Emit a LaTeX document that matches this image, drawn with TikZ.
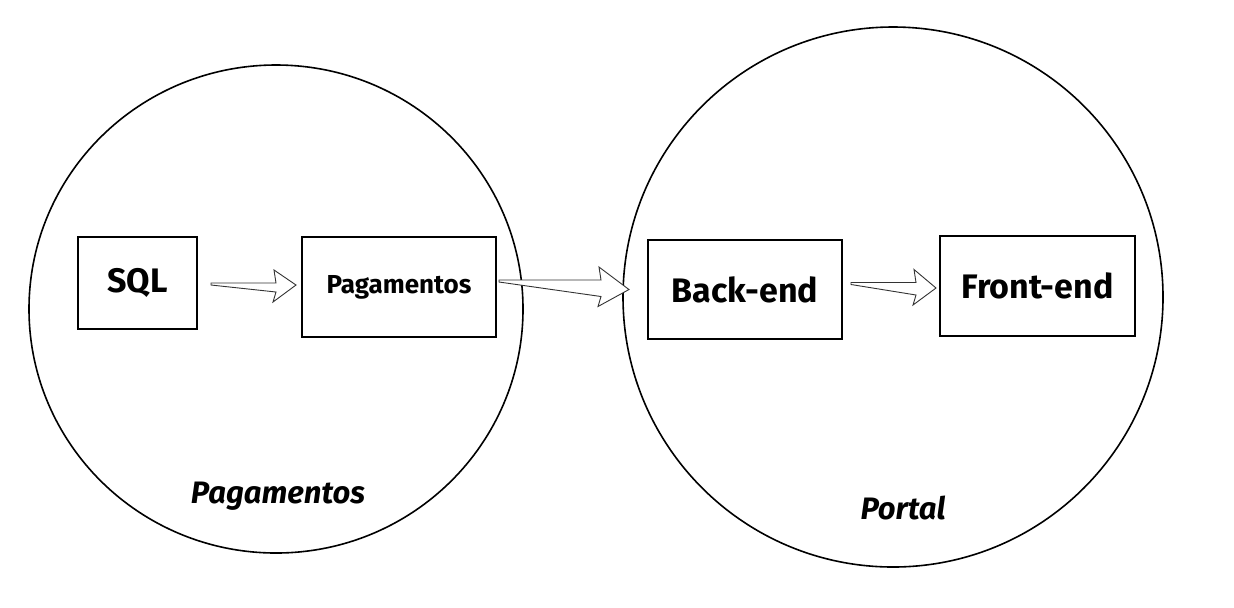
\documentclass[tikz,border=0pt]{standalone}
\usepackage{fontspec}
\setmainfont{Fira Sans}
\usetikzlibrary{calc, shapes.geometric}
\tikzset{
  % Contenitori dei servizi
  service/.style={draw=black,line width=0.8pt,ellipse,inner sep=0pt},
  service label/.style={font=\fontsize{15.5}{18}\selectfont\bfseries\itshape},
  % Blocchi
  block/.style={draw=black,line width=1pt,inner sep=0pt,font=\fontsize{17}{20}\selectfont\bfseries},
  block small/.style={block,font=\fontsize{13}{16}\selectfont\bfseries},
  % Frecce vuote
  fat arrow/.style={draw=black!80,line width=0.45pt,fill=white,line join=miter}
}
% freccia larga tra due punti (opzionale: lunghezza della punta)
\newcommand{\fatarrow}[3][10pt]{%
  \draw[fat arrow] let \p1=(#2), \p2=(#3) in
    (\x1,\y1) -- (\x2-#1,\y1) -- (\x2-#1-1pt,\y1+6.5pt) -- (\x2,\y2)
    -- (\x2-#1-1.5pt,\y2-8.5pt) -- (\x2-#1,\y2-3.5pt) -- (\x1,\y1-1pt) -- cycle;}

\begin{document}
\begin{tikzpicture}[x=0.5pt,y=-0.5pt]
    \useasboundingbox (0,0) rectangle (1234,607);
    % servizi
    \node[service,minimum width=247pt,minimum height=244pt] (pagCircle) at (276,309) {};
    \node[service,minimum width=270pt,minimum height=270pt] (portalCircle) at (893,297) {};
    \node[service label] (pagLabel) at (278,496) {Pagamentos};
    \node[service label] (portalLabel) at (903,508) {Portal};
    % blocchi
    \node[block,minimum width=59.5pt,minimum height=46pt] (sql) at (137.5,283) {SQL};
    \node[block small,minimum width=97pt,minimum height=50pt] (pag) at (399,287) {\raisebox{3pt}{Pagamentos}};
    \node[block,minimum width=97pt,minimum height=49.5pt] (back) at (745,289.5) {Back-end};
    \node[block,minimum width=97.5pt,minimum height=50pt] (front) at (1037.5,286) {Front-end};
    % frecce
    \fatarrow{$(sql.east)+(13,0)$}{$(pag.west)+(-5,-2)$}
    \fatarrow[14pt]{$(pag.east)+(2,-7)$}{$(back.west)+(-18,0)$}
    \fatarrow{$(back.east)+(8,-7)$}{$(front.west)+(-3,2)$}
\end{tikzpicture}
\end{document}
